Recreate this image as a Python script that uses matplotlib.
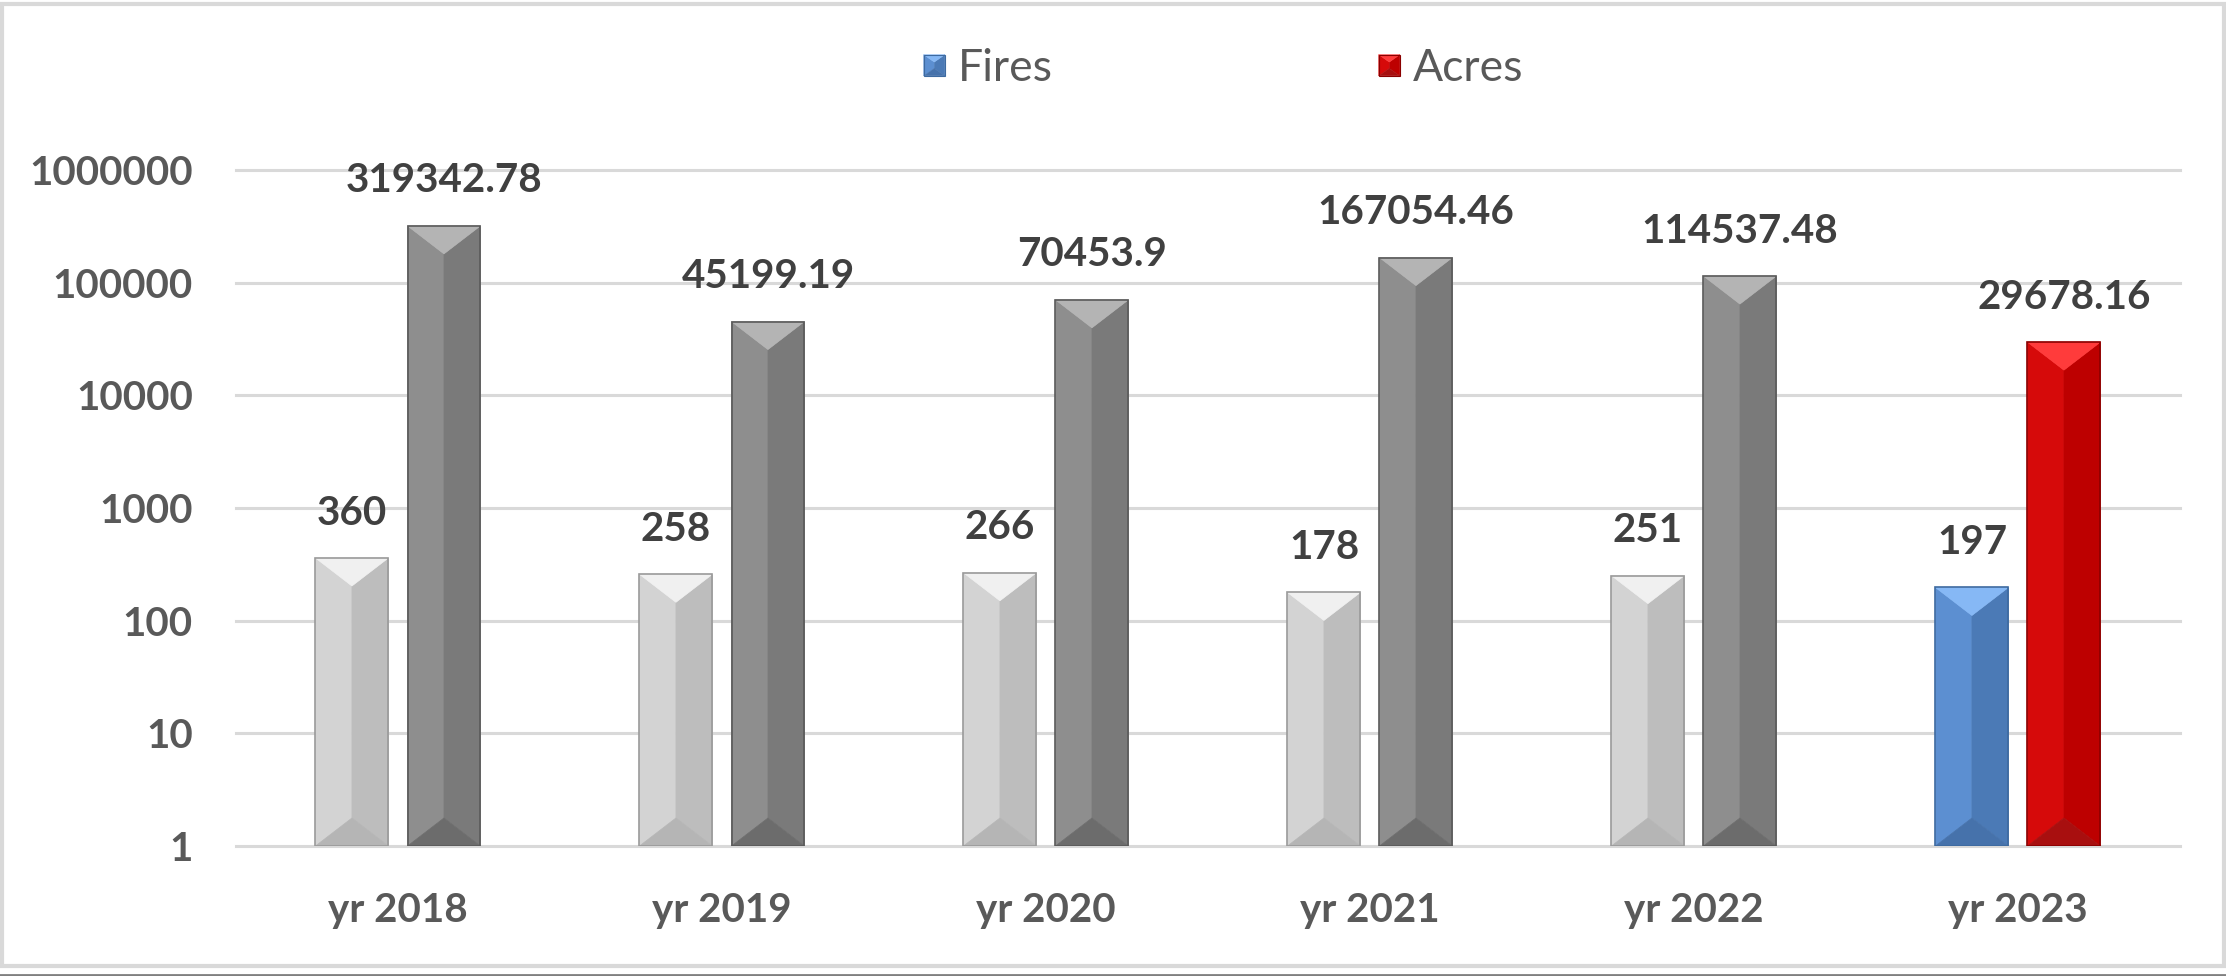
import matplotlib
matplotlib.use("Agg")
import matplotlib.pyplot as plt
import numpy as np
from matplotlib.patches import Polygon, Rectangle
from matplotlib.legend_handler import HandlerBase
from matplotlib.lines import Line2D

plt.rcParams['font.family'] = ['Lato', 'DejaVu Sans']

years = ['yr 2018', 'yr 2019', 'yr 2020', 'yr 2021', 'yr 2022', 'yr 2023']
fires = [360, 258, 266, 178, 251, 197]
acres = [319342.78, 45199.19, 70453.9, 167054.46, 114537.48, 29678.16]
ytick_vals = [1, 10, 100, 1000, 10000, 100000, 1000000]
ytick_labels = ['1', '10', '100', '1000', '10000', '100000', '1000000']

# face colours: left, right, top, bottom, edge
LIGHT = ('#d3d3d3', '#bdbdbd', '#f0f0f0', '#b5b5b5', '#9a9a9a')
DARK = ('#8e8e8e', '#7a7a7a', '#b4b4b4', '#6c6c6c', '#5a5a5a')
BLUE = ('#5c8fd1', '#4b7ab6', '#86b8f5', '#4672ab', '#3d6aa0')
RED = ('#d60a0a', '#bd0000', '#ff3b3b', '#a80f0f', '#8a0000')
TXT = '#595959'
GRID = '#d9d9d9'

DEPTH = 28  # bevel depth in pixels


def bevel_bar(ax, x, w, top, faces, depth=DEPTH):
    # bar drawn as four faces meeting in the middle (excel "angle" bevel)
    left, right, topc, botc, edge = faces
    x0, x1, xc = x - w / 2, x + w / 2, x
    bottom = ax.get_ylim()[0]
    inv = ax.transData.inverted()
    _, ytop_px = ax.transData.transform((x, top))
    _, ybot_px = ax.transData.transform((x, bottom))
    yt = inv.transform((0, ytop_px - depth))[1]
    yb = inv.transform((0, ybot_px + depth))[1]
    polys = [
        ([(x0, bottom), (x0, top), (xc, yt), (xc, yb)], left),
        ([(x1, bottom), (x1, top), (xc, yt), (xc, yb)], right),
        ([(x0, top), (x1, top), (xc, yt)], topc),
        ([(x0, bottom), (x1, bottom), (xc, yb)], botc),
    ]
    for pts, c in polys:
        ax.add_patch(Polygon(pts, closed=True, facecolor=c, edgecolor=c,
                             lw=0.5, zorder=3))
    ax.add_patch(Rectangle((x0, bottom), w, top - bottom, fill=False,
                           edgecolor=edge, lw=1.2, zorder=4))


class BevelHandler(HandlerBase):
    def __init__(self, faces):
        super().__init__()
        self.faces = faces

    def create_artists(self, legend, orig_handle, xdescent, ydescent,
                       width, height, fontsize, trans):
        left, right, topc, botc, edge = self.faces
        s = height * 0.68
        x0 = width - s
        y0 = -ydescent + (height - s) / 2
        xc, d = x0 + s / 2, s * 0.35
        pts = [
            ([(x0, y0), (x0, y0 + s), (xc, y0 + s - d), (xc, y0 + d)], left),
            ([(x0 + s, y0), (x0 + s, y0 + s), (xc, y0 + s - d), (xc, y0 + d)], right),
            ([(x0, y0 + s), (x0 + s, y0 + s), (xc, y0 + s - d)], topc),
            ([(x0, y0), (x0 + s, y0), (xc, y0 + d)], botc),
        ]
        arts = [Polygon(p, closed=True, facecolor=c, edgecolor=c, lw=0.3,
                        transform=trans) for p, c in pts]
        arts.append(Rectangle((x0, y0), s, s, fill=False, edgecolor=edge,
                              lw=0.8, transform=trans))
        return arts


fig = plt.figure(figsize=(22.26, 9.76), dpi=100)
ax = fig.add_axes([0.106, 0.1332, 0.8733, 0.6926])
ax.set_yscale('log')
ax.set_ylim(1, 1000000)
ax.set_xlim(-0.5, len(years) - 0.5)

ax.set_yticks(ytick_vals)
ax.set_yticklabels(ytick_labels)
ax.yaxis.set_minor_locator(matplotlib.ticker.NullLocator())
ax.set_xticks(range(len(years)))
ax.set_xticklabels(years)
ax.tick_params(axis='y', length=0, pad=31, labelsize=29, labelcolor=TXT)
ax.tick_params(axis='x', length=0, pad=33, labelsize=29, labelcolor=TXT)
for lab in ax.get_yticklabels() + ax.get_xticklabels():
    lab.set_fontweight('bold')

ax.grid(axis='y', color=GRID, lw=2.2)
ax.set_axisbelow(True)
for gl in ax.get_ygridlines():
    gl.set_clip_on(False)
for sp in ax.spines.values():
    sp.set_visible(False)

bw = 0.225
off = 0.142
last = len(years) - 1
for i in range(len(years)):
    fc_f = BLUE if i == last else LIGHT
    fc_a = RED if i == last else DARK
    bevel_bar(ax, i - off, bw, fires[i], fc_f)
    bevel_bar(ax, i + off, bw, acres[i], fc_a)
    ax.annotate(str(fires[i]), xy=(i - off, fires[i]), xytext=(0, 19),
                textcoords='offset points', ha='center', va='bottom',
                fontsize=29, fontweight='bold', color='#404040', zorder=5)
    ax.annotate(str(acres[i]), xy=(i + off, acres[i]), xytext=(0, 19),
                textcoords='offset points', ha='center', va='bottom',
                fontsize=29, fontweight='bold', color='#404040', zorder=5,
                annotation_clip=False)

h_f = Rectangle((0, 0), 1, 1)
h_a = Rectangle((0, 0), 1, 1)
fig.legend([h_f, h_a], ['Fires', 'Acres'], ncol=2, frameon=False,
           loc='center', bbox_to_anchor=(0.5485, 0.93),
           fontsize=32, labelcolor=TXT, columnspacing=7.2,
           handlelength=0.6, handletextpad=0.3,
           handler_map={h_f: BevelHandler(BLUE), h_a: BevelHandler(RED)})

# chart frame as in the spreadsheet export
fig.patches.append(Rectangle((0.0007, 0.0103), 0.9984, 0.9855,
                             transform=fig.transFigure, fill=False,
                             edgecolor=GRID, lw=3))
fig.lines.append(Line2D([0, 1], [0.001, 0.001], transform=fig.transFigure,
                        color='#808080', lw=2))

fig.savefig('out.png', dpi=100)
